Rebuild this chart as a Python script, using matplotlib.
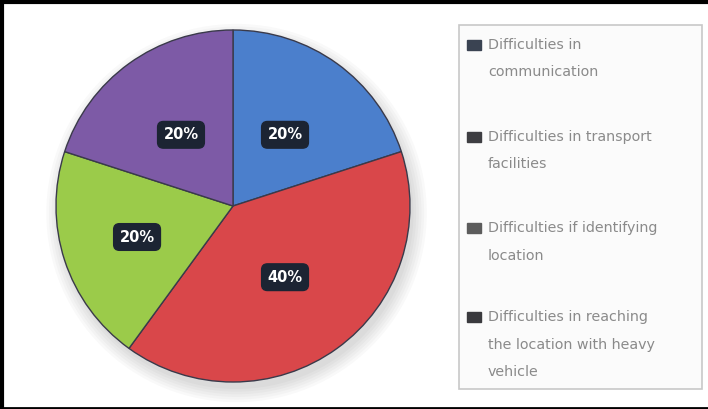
import matplotlib
matplotlib.use("Agg")
import matplotlib.pyplot as plt
from matplotlib.patches import Rectangle, Ellipse
from matplotlib.lines import Line2D
import numpy as np

categories = [
    "Difficulties in\ncommunication",
    "Difficulties in transport\nfacilities",
    "Difficulties if identifying\nlocation",
    "Difficulties in reaching\nthe location with heavy\nvehicle",
]
values = [20, 40, 20, 20]
pct_labels = ["20%", "40%", "20%", "20%"]
slice_colors = ["#4b7fcc", "#d9474a", "#9bcb4a", "#7d5aa6"]
legend_colors = ["#3a4352", "#3e3e42", "#5c5c5c", "#3a3a3e"]

W, H = 708, 409
fig = plt.figure(figsize=(W / 100, H / 100), dpi=100)
fig.patch.set_facecolor("white")

# pie axes
ax = fig.add_axes([56 / W, 27 / H, 354 / W, 352 / H])
ax.set_xlim(-1.0, 1.0)
ax.set_ylim(-1.0, 1.0)
# soft shadow
for k in range(6):
    ax.add_patch(Ellipse((0.02, -0.04), 2.0 + 0.03 * k, 2.0 + 0.03 * k,
                         facecolor="#000000", alpha=0.022, edgecolor="none",
                         zorder=0, clip_on=False))
wedges, _ = ax.pie(values, colors=slice_colors, startangle=90, counterclock=False,
                   wedgeprops=dict(edgecolor="#3a3a4a", linewidth=1.0))
ax.set_xlim(-1.0, 1.0)
ax.set_ylim(-1.0, 1.0)
ax.set_aspect("auto")
ax.axis("off")

label_r = [0.5, 0.5, 0.57, 0.5]
for w, lab, r in zip(wedges, pct_labels, label_r):
    ang = np.deg2rad((w.theta1 + w.theta2) / 2)
    ax.text(r * np.cos(ang), r * np.sin(ang), lab, ha="center", va="center",
            color="white", fontsize=10.5, fontweight="bold",
            bbox=dict(boxstyle="round,pad=0.4", facecolor="#1c2433",
                      edgecolor="#1c2433"))

# legend box (pixel coords)
lax = fig.add_axes([0, 0, 1, 1], facecolor="none")
lax.set_xlim(0, W)
lax.set_ylim(H, 0)
lax.axis("off")
lax.add_patch(Rectangle((459, 25), 243, 364, facecolor="#fbfbfb",
                        edgecolor="#c8c8c8", linewidth=1.2))
entry_y = [45, 137, 228, 317]
line_gap = 27.5
for i, (lab, col) in enumerate(zip(categories, legend_colors)):
    y0 = entry_y[i]
    lax.add_patch(Rectangle((467, y0 - 5), 14, 10, facecolor=col, edgecolor=col))
    for j, line in enumerate(lab.split("\n")):
        lax.text(488, y0 + j * line_gap, line, ha="left", va="center",
                 fontsize=10.3, color="#8a8a8a")

# figure frame
lax.add_line(Line2D([0, W], [1.5, 1.5], color="black", linewidth=3))
lax.add_line(Line2D([1.5, 1.5], [0, H], color="black", linewidth=3))
lax.add_line(Line2D([0, W], [H - 1, H - 1], color="black", linewidth=2))

fig.savefig("out.png", dpi=100)
